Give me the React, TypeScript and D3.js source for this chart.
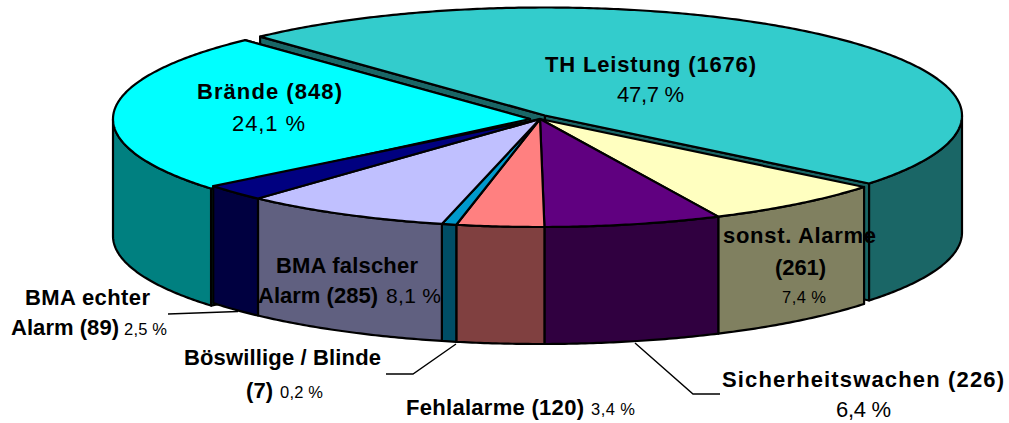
import React from "react";
import * as d3 from "d3";

// ---- data -------------------------------------------------------------
const categories = ["TH Leistung", "sonst. Alarme", "Sicherheitswachen", "Fehlalarme", "Böswillige / Blinde", "BMA falscher Alarm", "BMA echter Alarm", "Brände"];
const counts = [1676, 261, 226, 120, 7, 285, 89, 848];
const topColors = ["#33CCCC", "#FFFFC0", "#600080", "#FF8080", "#0099CC", "#C0C0FF", "#000080", "#00FFFF"];
const sideColors = ["#1A6666", "#808060", "#300040", "#804040", "#004D66", "#606080", "#000040", "#008080"];

// ---- geometry ---------------------------------------------------------
const W = 1009, H = 423;
const cx = 540, cy = 119, rx = 417, ry = 108, depth = 117;
const startDeg = -43.1;
const minVisible = 20; // very thin slices are kept visible
const explodeX = [5, 0, 0, 0, 0, 0, 0, -10];
const explodeY = [-3.5, 0, 0, 0, 0, 0, 0, 0];
const startTrimDeg = [0, 0, 0, 0, 0, 0, 0, -1.7];
const explodedFirst = [0, 7];
const flat = [1, 2, 3, 4, 5, 6];

// the 3-D view stretches the slices at the front a little
const toRad = (d: number) => (d * Math.PI) / 180;
const viewWarp = d3.scaleLinear()
  .domain([-43.1, 128.07, 154.73, 177.81, 230.3, 316.9].map(toRad))
  .range([-43.1, 129, 154.7, 179.4, 231.6, 316.9].map(toRad));

const xScale = d3.scaleLinear().domain([-1, 1]).range([cx - rx, cx + rx]);
const yScale = d3.scaleLinear().domain([-1, 1]).range([cy - ry, cy + ry]);
const startRad = toRad(startDeg);
const arcs = d3.pie<number>().sort(null).value((v) => Math.max(v, minVisible)).startAngle(startRad).endAngle(startRad + 2 * Math.PI)(counts)
  .map((a, i) => ({ startAngle: viewWarp(a.startAngle) + toRad(startTrimDeg[i]), endAngle: viewWarp(a.endAngle) }));

type P = [number, number];
const line = d3.line<P>();
function rim(a0: number, a1: number, dx: number, dy: number): P[] {
  const n = Math.max(2, Math.ceil(Math.abs(a1 - a0) / 0.01));
  return d3.range(n + 1).map((i) => {
    const t = a0 + ((a1 - a0) * i) / n;
    return [xScale(Math.sin(t)) + dx, yScale(-Math.cos(t)) + dy] as P;
  });
}
const stroke = { stroke: "#000", strokeWidth: 2.2, strokeLinejoin: "round" as const };
const down = (p: P): P => [p[0], p[1] + depth];

function Top({ i }: { i: number }) {
  const a = arcs[i];
  const dx = explodeX[i], dy = explodeY[i];
  const tip: P = [cx + dx, cy + dy];
  return <path d={line([tip, ...rim(a.startAngle, a.endAngle, dx, dy)])! + "Z"} fill={topColors[i]} {...stroke} />;
}
function Wall({ i }: { i: number }) {
  const a = arcs[i];
  const dx = explodeX[i], dy = explodeY[i];
  const lo = Math.max(a.startAngle, Math.PI / 2);
  const hi = Math.min(a.endAngle, (3 * Math.PI) / 2);
  if (hi <= lo) return null;
  const w = rim(lo, hi, dx, dy);
  return <path d={line([...w, ...w.map(down).reverse()])! + "Z"} fill={sideColors[i]} {...stroke} />;
}
function Cuts({ i }: { i: number }) {
  const a = arcs[i];
  const dx = explodeX[i], dy = explodeY[i];
  const tip: P = [cx + dx, cy + dy];
  const top = rim(a.startAngle, a.endAngle, dx, dy);
  const ends = [top[0], top[top.length - 1]];
  return <>{ends.map((e, k) => <path key={k} d={line([tip, e, down(e), down(tip)])! + "Z"} fill={sideColors[i]} {...stroke} />)}</>;
}

const leaders: P[][] = [
  [[168, 314], [238, 311.5]],
  [[386, 374], [413, 374], [456, 344]],
  [[635, 343], [693, 394], [720, 394]],
];

type T = { s: string; x: number; y: number; w: number; b?: boolean; size?: number };
const labels: T[] = [
  { s: "TH Leistung (1676)", x: 545, y: 72, w: 211, b: true },
  { s: "47,7 %", x: 617, y: 102, w: 67 },
  { s: "Brände (848)", x: 197, y: 99, w: 145, b: true },
  { s: "24,1 %", x: 232, y: 131, w: 73 },
  { s: "BMA falscher", x: 276, y: 273, w: 142, b: true },
  { s: "Alarm (285)", x: 258, y: 303, w: 120, b: true },
  { s: "8,1 %", x: 386, y: 303, w: 55, size: 21 },
  { s: "BMA echter", x: 25, y: 305, w: 125, b: true },
  { s: "Alarm (89)", x: 11, y: 335, w: 108, b: true },
  { s: "2,5 %", x: 124, y: 335, w: 43, size: 16.5 },
  { s: "Böswillige / Blinde", x: 184, y: 365, w: 197, b: true },
  { s: "(7)", x: 246, y: 398, w: 27, b: true },
  { s: "0,2 %", x: 280, y: 398, w: 43, size: 16.5 },
  { s: "Fehlalarme (120)", x: 406, y: 415, w: 178, b: true },
  { s: "3,4 %", x: 591, y: 415, w: 44, size: 16.5 },
  { s: "Sicherheitswachen (226)", x: 722, y: 387, w: 282, b: true },
  { s: "6,4 %", x: 836, y: 417, w: 55 },
  { s: "sonst. Alarme", x: 723, y: 243, w: 153, b: true },
  { s: "(261)", x: 775, y: 275, w: 51, b: true },
  { s: "7,4 %", x: 782, y: 303, w: 44, size: 16.5 },
];

export default function App() {
  return (
    <svg width={W} height={H} viewBox={`0 0 ${W} ${H}`} role="img" aria-label={categories.join(", ")}
      style={{ position: "absolute", left: 0, top: 0, background: "#fff", display: "block" }}>
      {explodedFirst.map((i) => <g key={i}><Cuts i={i} /><Wall i={i} /><Top i={i} /></g>)}
      {flat.map((i) => <Wall key={i} i={i} />)}
      {flat.map((i) => <Top key={i} i={i} />)}
      {leaders.map((l, i) => <path key={i} d={line(l)!} fill="none" stroke="#000" strokeWidth={1.4} />)}
      {labels.map((t) => (
        <text key={t.s} x={t.x} y={t.y} textLength={t.w} lengthAdjust="spacing"
          fontFamily="'Liberation Sans', Arial, sans-serif" fontWeight={t.b ? 700 : 400}
          fontSize={t.size ?? 22} fill="#000">{t.s}</text>
      ))}
    </svg>
  );
}
